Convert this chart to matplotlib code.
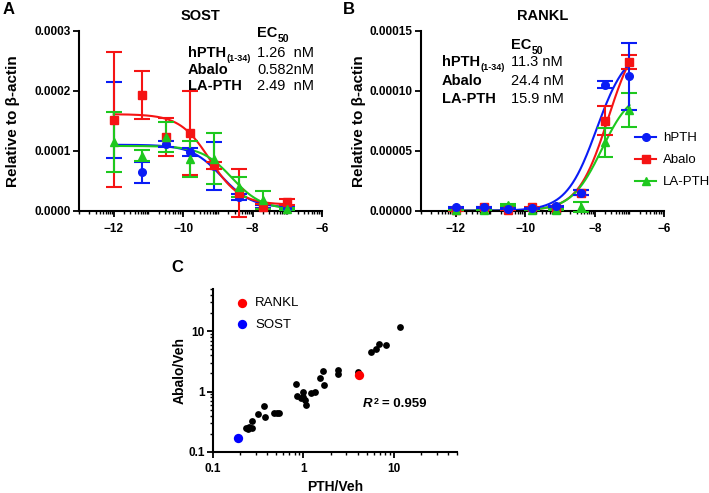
import numpy as np
import matplotlib.pyplot as plt
from matplotlib.lines import Line2D
from matplotlib.ticker import FixedLocator, FuncFormatter

plt.rcParams['font.family'] = ['Liberation Sans', 'DejaVu Sans']

# log[PTH] (M) doses used in panels A and B
dose = [-12.0, -11.2, -10.5, -9.8, -9.1, -8.4, -7.7, -7.0]

# Panel A - SOST (relative to beta-actin, x1e-4)
sost_hpth = [1.51, 0.64, 1.12, 0.98, 0.74, 0.23, 0.07, 0.04]
sost_hpth_err = [0.63, 0.17, 0.05, 0.07, 0.40, 0.05, 0.03, 0.02]
sost_abalo = [1.52, 1.93, 1.23, 1.30, 0.76, 0.30, 0.07, 0.15]
sost_abalo_err = [1.13, 0.40, 0.32, 0.70, 0.06, 0.40, 0.04, 0.05]
sost_la = [1.15, 0.92, 1.23, 0.87, 0.87, 0.40, 0.18, 0.03]
sost_la_err = [0.50, 0.09, 0.25, 0.30, 0.42, 0.17, 0.15, 0.02]

# Panel B - RANKL (relative to beta-actin, x1e-4)
rankl_hpth = [0.028, 0.028, 0.017, 0.020, 0.036, 0.15, 1.05, 1.12]
rankl_hpth_err = [0.005, 0.005, 0.005, 0.005, 0.005, 0.02, 0.03, 0.28]
rankl_abalo = [0.005, 0.030, 0.010, 0.030, 0.020, 0.15, 0.75, 1.24]
rankl_abalo_err = [0.005, 0.005, 0.005, 0.005, 0.005, 0.02, 0.12, 0.06]
rankl_la = [0.005, 0.008, 0.050, 0.008, 0.008, 0.03, 0.57, 0.84]
rankl_la_err = [0.003, 0.003, 0.010, 0.003, 0.003, 0.04, 0.12, 0.14]

# fitted 4PL parameters: bottom, top (x1e-4), logEC50
sost_fit = {'hPTH': (0.05, 1.10, -8.90), 'Abalo': (0.10, 1.61, -9.235), 'LA-PTH': (0.02, 1.08, -8.60)}
rankl_fit = {'hPTH': (0.0, 1.36, -7.947), 'Abalo': (0.0, 1.54, -7.613), 'LA-PTH': (0.0, 1.02, -7.799)}

sost_ec50 = ['1.26  nM', '0.582nM', '2.49  nM']
rankl_ec50 = ['11.3 nM', '24.4 nM', '15.9 nM']
drug_names = ['hPTH', 'Abalo', 'LA-PTH']

# Panel C - fold changes
pth_veh = [11.6, 6.9, 8.2, 5.6, 6.3, 4.0, 2.4, 2.4, 1.67, 1.53, 1.71, 1.36, 1.22,
           0.83, 0.86, 0.93, 1.0, 1.0, 1.07, 1.04, 0.51, 0.54, 0.47, 0.366, 0.38,
           0.316, 0.27, 0.23, 0.245, 0.27, 0.25]
abalo_veh = [11.8, 6.2, 6.0, 4.6, 5.0, 2.1, 2.3, 1.97, 2.2, 1.67, 1.31, 1.0, 0.94,
             1.34, 0.85, 0.77, 1.0, 0.81, 0.6, 0.72, 0.45, 0.45, 0.44, 0.58, 0.38,
             0.42, 0.32, 0.25, 0.24, 0.25, 0.26]
rankl_pt = (4.1, 1.85)
sost_pt = (0.19, 0.17)

colors = {'hPTH': '#0a1cf5', 'Abalo': '#f51414', 'LA-PTH': '#1ec81e'}
markers = {'hPTH': 'o', 'Abalo': 's', 'LA-PTH': '^'}

fig = plt.figure(figsize=(7.09, 4.93), dpi=100)
axA = fig.add_axes([0.1114, 0.5726, 0.343, 0.365])
axB = fig.add_axes([0.5938, 0.5726, 0.343, 0.365])
axC = fig.add_axes([0.3004, 0.0832, 0.344, 0.3306])

minor_pos = [n + np.log10(k) for n in range(-13, -6) for k in range(1, 10)]


def style_dose_axis(ax, ylabelpad):
    for s in ['top', 'right']:
        ax.spines[s].set_visible(False)
    for s in ['left', 'bottom']:
        ax.spines[s].set_linewidth(1.5)
    ax.set_xlim(-13, -6)
    ax.set_xticks([-12, -10, -8, -6])
    ax.xaxis.set_minor_locator(FixedLocator(minor_pos))
    ax.tick_params(which='major', length=4, width=1.3, labelsize=8.5)
    ax.tick_params(axis='x', which='major', pad=5)
    ax.tick_params(axis='y', which='major', pad=2)
    ax.tick_params(which='minor', axis='x', length=2.5, width=1.0)
    for lab in ax.get_xticklabels() + ax.get_yticklabels():
        lab.set_fontweight('bold')
    ax.set_ylabel('Relative to β-actin', fontsize=11, fontweight='bold', labelpad=ylabelpad)


def draw_panel(ax, data, fits, order, direction):
    xs = np.linspace(-12, -7, 200)
    for name in order:
        y, e = data[name]
        c = colors[name]
        bot, top, ec = fits[name]
        curve = bot + (top - bot) / (1 + 10 ** (direction * (xs - ec)))
        ax.plot(xs, curve * 1e-4, color=c, lw=1.5, zorder=2)
        ax.errorbar(dose, np.array(y) * 1e-4, yerr=np.array(e) * 1e-4, fmt=markers[name],
                    color=c, ms=5.5, capsize=5.5, elinewidth=1.5, capthick=1.5,
                    zorder=3, clip_on=False)


draw_panel(axA, {'hPTH': (sost_hpth, sost_hpth_err), 'Abalo': (sost_abalo, sost_abalo_err),
                 'LA-PTH': (sost_la, sost_la_err)}, sost_fit, ['hPTH', 'Abalo', 'LA-PTH'], 1)
axA.set_ylim(0, 3e-4)
axA.set_yticks([0, 1e-4, 2e-4, 3e-4])
axA.yaxis.set_major_formatter(FuncFormatter(lambda v, p: f'{v:.4f}'))
style_dose_axis(axA, 10)
axA.set_title('SOST', fontsize=10.5, fontweight='bold', pad=8)

draw_panel(axB, {'hPTH': (rankl_hpth, rankl_hpth_err), 'Abalo': (rankl_abalo, rankl_abalo_err),
                 'LA-PTH': (rankl_la, rankl_la_err)}, rankl_fit, ['Abalo', 'LA-PTH', 'hPTH'], -1)
axB.set_ylim(0, 1.5e-4)
axB.set_yticks([0, 5e-5, 1e-4, 1.5e-4])
axB.yaxis.set_major_formatter(FuncFormatter(lambda v, p: f'{v:.5f}'))
style_dose_axis(axB, 3)
axB.set_title('RANKL', fontsize=10.5, fontweight='bold', pad=8)

handles = [Line2D([], [], color=colors[n], marker=markers[n], ms=5.5, lw=1.5) for n in drug_names]
axB.legend(handles, drug_names, loc='center left', bbox_to_anchor=(0.8956, 0.675),
           bbox_transform=fig.transFigure, frameon=False, fontsize=9.5,
           handlelength=1.6, handletextpad=0.5, labelspacing=0.75, borderpad=0,
           borderaxespad=0)


def ec50_table(ax, x_lab, x_val, y_rows, y_head, values):
    t = ax.text(x_val, y_head, 'EC', transform=ax.transAxes, fontsize=10.5, fontweight='bold',
                va='bottom', ha='left')
    ax.annotate('50', xy=(1, 0), xycoords=t, xytext=(0.3, -2.5), textcoords='offset points',
                fontsize=7.5, fontweight='bold', va='bottom', ha='left')
    labels = ['hPTH', 'Abalo', 'LA-PTH']
    for i, (lab, val) in enumerate(zip(labels, values)):
        tt = ax.text(x_lab, y_rows[i], lab, transform=ax.transAxes, fontsize=10.5,
                     fontweight='bold', va='bottom', ha='left')
        if i == 0:
            ax.annotate('(1-34)', xy=(1, 0), xycoords=tt, xytext=(0.3, -2),
                        textcoords='offset points', fontsize=6.5, fontweight='bold',
                        va='bottom', ha='left')
        ax.text(x_val, y_rows[i], val, transform=ax.transAxes, fontsize=10.5,
                va='bottom', ha='left')


# axes px: A spans x 79..322, y 30.7..210.7
ec50_table(axA, (188 - 79) / 243, (257 - 79) / 243,
           [(210.7 - 60) / 180, (210.7 - 76.5) / 180, (210.7 - 93) / 180],
           (210.7 - 40) / 180, sost_ec50)
ec50_table(axB, (442 - 421) / 243, (511 - 421) / 243,
           [(210.7 - 69) / 180, (210.7 - 88) / 180, (210.7 - 105.5) / 180],
           (210.7 - 52) / 180, rankl_ec50)

# Panel C
axC.set_xscale('log')
axC.set_yscale('log')
axC.scatter(pth_veh, abalo_veh, s=24, color='black', zorder=3, linewidths=0)
axC.scatter([rankl_pt[0]], [rankl_pt[1]], s=45, color='#ff0000', zorder=4, linewidths=0, label='RANKL')
axC.scatter([sost_pt[0]], [sost_pt[1]], s=45, color='#0000ff', zorder=4, linewidths=0, label='SOST')
axC.set_xlim(0.1, 50)
axC.set_ylim(0.1, 50)
fmt = FuncFormatter(lambda v, p: f'{v:g}')
axC.xaxis.set_major_formatter(fmt)
axC.yaxis.set_major_formatter(fmt)
for s in ['top', 'right']:
    axC.spines[s].set_visible(False)
for s in ['left', 'bottom']:
    axC.spines[s].set_linewidth(1.5)
axC.tick_params(which='major', length=4, width=1.3, labelsize=8.5)
axC.tick_params(axis='x', which='major', pad=4)
axC.tick_params(axis='y', which='major', pad=2)
axC.tick_params(which='minor', length=2.5, width=1.0)
for lab in axC.get_xticklabels() + axC.get_yticklabels():
    lab.set_fontweight('bold')
axC.set_xlabel('PTH/Veh', fontsize=10, fontweight='bold', labelpad=3.5)
axC.set_ylabel('Abalo/Veh', fontsize=10, fontweight='bold', labelpad=1)
axC.legend(loc='upper left', bbox_to_anchor=(0.07, 0.99), frameon=False, fontsize=9.5,
           handletextpad=0.6, labelspacing=0.7, borderpad=0, handlelength=0.8,
           scatterpoints=1)
r_txt = axC.text(0.615, 0.294, 'R', transform=axC.transAxes, fontsize=9.5,
                 style='italic', fontweight='bold', va='center', ha='left')
sup = axC.annotate('2', xy=(1, 1), xycoords=r_txt, xytext=(1, 1), textcoords='offset points',
                   fontsize=6.5, fontweight='bold', va='top', ha='left')
axC.annotate('= 0.959', xy=(1, 0), xycoords=(sup, r_txt), xytext=(2.5, 0),
             textcoords='offset points', fontsize=9.5, fontweight='bold', va='bottom', ha='left')

fig.text(3 / 709, 1 - 9 / 493, 'A', fontsize=12, fontweight='bold', va='center', ha='left')
fig.text(343 / 709, 1 - 9 / 493, 'B', fontsize=12, fontweight='bold', va='center', ha='left')
fig.text(171 / 709, 1 - 268 / 493, 'C', fontsize=12, fontweight='bold', va='center', ha='left')

fig.savefig('out.png', dpi=100)
